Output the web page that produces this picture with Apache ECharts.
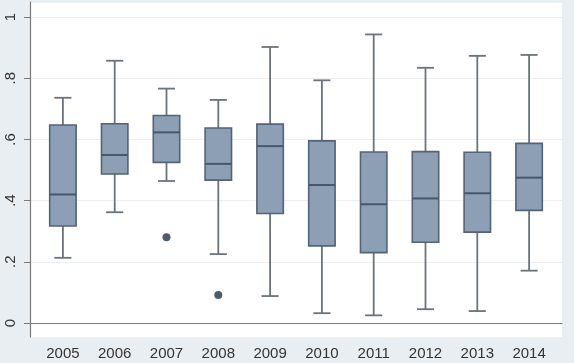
<!DOCTYPE html>
<html>
<head>
<meta charset="utf-8">
<script src="https://cdn.jsdelivr.net/npm/echarts@6/dist/echarts.min.js"></script>
<style>html,body{margin:0;padding:0;background:#e9eef2;}#c{width:574px;height:363px;}</style>
</head>
<body>
<div id="c"></div>
<script>
var years = ['2005','2006','2007','2008','2009','2010','2011','2012','2013','2014'];
var lowWhisker = [0.213, 0.362, 0.464, 0.225, 0.088, 0.032, 0.025, 0.045, 0.039, 0.171];
var q1 =         [0.317, 0.487, 0.525, 0.467, 0.358, 0.252, 0.230, 0.264, 0.297, 0.368];
var median =     [0.420, 0.549, 0.623, 0.520, 0.578, 0.451, 0.388, 0.407, 0.424, 0.475];
var q3 =         [0.647, 0.651, 0.678, 0.637, 0.650, 0.595, 0.559, 0.560, 0.558, 0.587];
var highWhisker =[0.736, 0.857, 0.766, 0.729, 0.902, 0.793, 0.943, 0.834, 0.873, 0.876];
var outlierYear = ['2007','2008'];
var outlierValue = [0.280, 0.0915];
var yTicks = [0, 0.2, 0.4, 0.6, 0.8, 1];

var yMin = -0.0458, yMax = 1.049;
var boxData = years.map(function(y,i){ return [i, lowWhisker[i], q1[i], median[i], q3[i], highWhisker[i]]; });
var outData = outlierYear.map(function(y,i){ return [years.indexOf(y), outlierValue[i]]; });

function fmt(v){
  for (var k=0;k<yTicks.length;k++){
    if (Math.abs(v-yTicks[k])<1e-6){
      var s = String(yTicks[k]);
      return s.replace(/^0\./,'.');
    }
  }
  return '';
}

var chart = echarts.init(document.getElementById('c'), null, {renderer:'canvas'});
var font = 'Liberation Sans, Arial, sans-serif';
chart.setOption({
  backgroundColor: '#e9eef2',
  animation: false,
  grid: [
    {left:30, right:12, top:2, bottom:26, show:true, backgroundColor:'#ffffff', borderWidth:0},
    {left:37, right:19, top:2, bottom:26}
  ],
  xAxis: [
    {gridIndex:0, type:'value', min:0, max:1, axisLine:{show:true, lineStyle:{color:'#7a7a7a', width:1.2}},
     axisTick:{show:false}, axisLabel:{show:false}, splitLine:{show:false}},
    {gridIndex:1, type:'category', data:years, boundaryGap:true,
     axisLine:{show:false}, axisTick:{show:false},
     axisLabel:{color:'#333333', fontSize:15, fontFamily:font, margin:9}}
  ],
  yAxis: [
    {gridIndex:0, type:'value', min:yMin, max:yMax, splitNumber:5,
     axisLine:{show:true, lineStyle:{color:'#7a7a7a', width:1.2}},
     axisTick:{show:true, length:6, lineStyle:{color:'#7a7a7a'}},
     axisLabel:{rotate:90, color:'#333333', fontSize:15, fontFamily:font, margin:12, formatter:fmt, showMinLabel:false, showMaxLabel:false},
     splitLine:{show:true, lineStyle:{color:'#eceff1', width:1}}},
    {gridIndex:1, type:'value', min:yMin, max:yMax, show:false}
  ],
  series: [
    {
      type:'custom', xAxisIndex:1, yAxisIndex:1, data:boxData,
      renderItem: function(params, api){
        var x = api.value(0);
        var band = api.size([1,0])[0];
        var bw = band*0.51, cw = band*0.33;
        var pL = api.coord([x, api.value(1)]);
        var p1 = api.coord([x, api.value(2)]);
        var pM = api.coord([x, api.value(3)]);
        var p3 = api.coord([x, api.value(4)]);
        var pH = api.coord([x, api.value(5)]);
        var cx = pL[0];
        var wl = {stroke:'#6b737b', lineWidth:1.8};
        return {type:'group', children:[
          {type:'line', shape:{x1:cx,y1:pH[1],x2:cx,y2:p3[1]}, style:wl},
          {type:'line', shape:{x1:cx,y1:pL[1],x2:cx,y2:p1[1]}, style:wl},
          {type:'line', shape:{x1:cx-cw/2,y1:pH[1],x2:cx+cw/2,y2:pH[1]}, style:wl},
          {type:'line', shape:{x1:cx-cw/2,y1:pL[1],x2:cx+cw/2,y2:pL[1]}, style:wl},
          {type:'rect', shape:{x:cx-bw/2, y:p3[1], width:bw, height:p1[1]-p3[1]},
           style:{fill:'#8c9fb5', stroke:'#52637a', lineWidth:1.6}},
          {type:'line', shape:{x1:cx-bw/2,y1:pM[1],x2:cx+bw/2,y2:pM[1]}, style:{stroke:'#46586c', lineWidth:2}}
        ]};
      }
    },
    {
      type:'scatter', xAxisIndex:1, yAxisIndex:1, data:outData,
      symbol:'circle', symbolSize:8, itemStyle:{color:'#1d3349'}
    }
  ]
});
</script>
</body>
</html>
